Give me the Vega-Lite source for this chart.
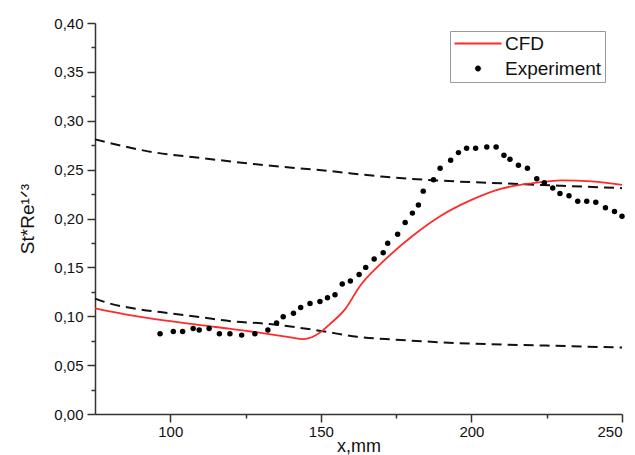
{
  "$schema": "https://vega.github.io/schema/vega-lite/v6.json",
  "width": 527,
  "height": 391,
  "autosize": "none",
  "padding": {"left": 95, "top": 23, "right": 13, "bottom": 41},
  "background": "white",
  "config": {
    "view": {"stroke": null},
    "font": "Liberation Sans",
    "axis": {
      "domainColor": "#333333",
      "domainWidth": 1.5,
      "tickColor": "#333333",
      "tickWidth": 1.5,
      "labelColor": "#111111",
      "labelFontSize": 15,
      "titleColor": "#111111",
      "titleFontWeight": "normal",
      "grid": false
    }
  },
  "datasets": {
    "bounds": [
      {"curve": "upper", "x": 75, "y": 0.281},
      {"curve": "upper", "x": 94, "y": 0.268},
      {"curve": "upper", "x": 110, "y": 0.262},
      {"curve": "upper", "x": 130, "y": 0.255},
      {"curve": "upper", "x": 153, "y": 0.2485},
      {"curve": "upper", "x": 170, "y": 0.243},
      {"curve": "upper", "x": 188, "y": 0.239},
      {"curve": "upper", "x": 210, "y": 0.236},
      {"curve": "upper", "x": 230, "y": 0.2335},
      {"curve": "upper", "x": 250, "y": 0.231},
      {"curve": "lower", "x": 75, "y": 0.118},
      {"curve": "lower", "x": 80, "y": 0.113},
      {"curve": "lower", "x": 90, "y": 0.107},
      {"curve": "lower", "x": 100, "y": 0.103},
      {"curve": "lower", "x": 110, "y": 0.099},
      {"curve": "lower", "x": 120, "y": 0.095},
      {"curve": "lower", "x": 133, "y": 0.092},
      {"curve": "lower", "x": 150, "y": 0.085},
      {"curve": "lower", "x": 162, "y": 0.079},
      {"curve": "lower", "x": 175, "y": 0.076},
      {"curve": "lower", "x": 200, "y": 0.072},
      {"curve": "lower", "x": 225, "y": 0.0700},
      {"curve": "lower", "x": 250, "y": 0.068}
    ],
    "cfd": [
      {"series": "CFD", "x": 75, "y": 0.108},
      {"series": "CFD", "x": 85, "y": 0.102},
      {"series": "CFD", "x": 100, "y": 0.095},
      {"series": "CFD", "x": 115, "y": 0.089},
      {"series": "CFD", "x": 130, "y": 0.083},
      {"series": "CFD", "x": 140, "y": 0.0785},
      {"series": "CFD", "x": 144, "y": 0.0766},
      {"series": "CFD", "x": 147, "y": 0.0785},
      {"series": "CFD", "x": 150, "y": 0.084},
      {"series": "CFD", "x": 153, "y": 0.092},
      {"series": "CFD", "x": 158, "y": 0.107},
      {"series": "CFD", "x": 163, "y": 0.131},
      {"series": "CFD", "x": 170, "y": 0.154},
      {"series": "CFD", "x": 180, "y": 0.181},
      {"series": "CFD", "x": 190, "y": 0.203},
      {"series": "CFD", "x": 200, "y": 0.219},
      {"series": "CFD", "x": 210, "y": 0.2305},
      {"series": "CFD", "x": 220, "y": 0.236},
      {"series": "CFD", "x": 230, "y": 0.239},
      {"series": "CFD", "x": 240, "y": 0.238},
      {"series": "CFD", "x": 250, "y": 0.2345}
    ],
    "exp": [
      {"series": "Experiment", "x": 96.6, "y": 0.082},
      {"series": "Experiment", "x": 101, "y": 0.0845},
      {"series": "Experiment", "x": 104.1, "y": 0.0845},
      {"series": "Experiment", "x": 107.6, "y": 0.0875},
      {"series": "Experiment", "x": 109.6, "y": 0.086},
      {"series": "Experiment", "x": 112.9, "y": 0.0875},
      {"series": "Experiment", "x": 116.3, "y": 0.082},
      {"series": "Experiment", "x": 119.8, "y": 0.082},
      {"series": "Experiment", "x": 123.7, "y": 0.0807},
      {"series": "Experiment", "x": 128.1, "y": 0.082},
      {"series": "Experiment", "x": 132.4, "y": 0.086},
      {"series": "Experiment", "x": 135.3, "y": 0.093},
      {"series": "Experiment", "x": 137.5, "y": 0.0995},
      {"series": "Experiment", "x": 140.9, "y": 0.103},
      {"series": "Experiment", "x": 143.3, "y": 0.109},
      {"series": "Experiment", "x": 146.4, "y": 0.113},
      {"series": "Experiment", "x": 149.7, "y": 0.115},
      {"series": "Experiment", "x": 152.2, "y": 0.119},
      {"series": "Experiment", "x": 154.7, "y": 0.122},
      {"series": "Experiment", "x": 157.1, "y": 0.133},
      {"series": "Experiment", "x": 159.8, "y": 0.136},
      {"series": "Experiment", "x": 162.7, "y": 0.1426},
      {"series": "Experiment", "x": 164.9, "y": 0.15},
      {"series": "Experiment", "x": 167.7, "y": 0.1586},
      {"series": "Experiment", "x": 170.7, "y": 0.165},
      {"series": "Experiment", "x": 172.2, "y": 0.1747},
      {"series": "Experiment", "x": 175.5, "y": 0.184},
      {"series": "Experiment", "x": 178, "y": 0.196},
      {"series": "Experiment", "x": 180.4, "y": 0.2055},
      {"series": "Experiment", "x": 182.4, "y": 0.2137},
      {"series": "Experiment", "x": 184, "y": 0.228},
      {"series": "Experiment", "x": 187.4, "y": 0.2397},
      {"series": "Experiment", "x": 189.6, "y": 0.2513},
      {"series": "Experiment", "x": 193.1, "y": 0.2595},
      {"series": "Experiment", "x": 195.7, "y": 0.2674},
      {"series": "Experiment", "x": 198.4, "y": 0.2718},
      {"series": "Experiment", "x": 201.4, "y": 0.2718},
      {"series": "Experiment", "x": 205.1, "y": 0.2731},
      {"series": "Experiment", "x": 208.2, "y": 0.2731},
      {"series": "Experiment", "x": 210.8, "y": 0.2646},
      {"series": "Experiment", "x": 212.8, "y": 0.2605},
      {"series": "Experiment", "x": 215.6, "y": 0.2544},
      {"series": "Experiment", "x": 218.6, "y": 0.2513},
      {"series": "Experiment", "x": 221.7, "y": 0.2407},
      {"series": "Experiment", "x": 224.2, "y": 0.2366},
      {"series": "Experiment", "x": 227, "y": 0.2311},
      {"series": "Experiment", "x": 229.4, "y": 0.2256},
      {"series": "Experiment", "x": 232.4, "y": 0.2232},
      {"series": "Experiment", "x": 235.3, "y": 0.2177},
      {"series": "Experiment", "x": 238.3, "y": 0.2177},
      {"series": "Experiment", "x": 241.3, "y": 0.2167},
      {"series": "Experiment", "x": 244.5, "y": 0.211},
      {"series": "Experiment", "x": 247.5, "y": 0.2072},
      {"series": "Experiment", "x": 250, "y": 0.2024}
    ]
  },
  "encoding": {
    "x": {
      "field": "x",
      "type": "quantitative",
      "scale": {"domain": [75, 250], "nice": false, "zero": false},
      "axis": {
        "title": "x,mm",
        "titleFontSize": 18,
        "titlePadding": -2,
        "values": [100, 125, 150, 175, 200, 225, 250],
        "labelExpr": "datum.value % 50 == 0 ? datum.label : ''",
        "tickSize": {"condition": {"test": "datum.value % 50 == 0", "value": 8}, "value": 4},
        "labelPadding": 2
      }
    },
    "y": {
      "field": "y",
      "type": "quantitative",
      "scale": {"domain": [0, 0.4], "nice": false},
      "axis": {
        "title": "St*Re¹ᐟ³",
        "titleFontSize": 19,
        "titlePadding": 16,
        "values": [0, 0.025, 0.05, 0.075, 0.1, 0.125, 0.15, 0.175, 0.2, 0.225, 0.25, 0.275, 0.3, 0.325, 0.35, 0.375, 0.4],
        "labelExpr": "abs(datum.value*20 - round(datum.value*20)) < 0.01 ? replace(format(datum.value, '.2f'), '.', ',') : ''",
        "tickSize": {"condition": {"test": "abs(datum.value*20 - round(datum.value*20)) < 0.01", "value": 8}, "value": 4},
        "labelPadding": 4
      }
    }
  },
  "layer": [
    {
      "data": {"name": "bounds"},
      "mark": {"type": "line", "color": "#111111", "strokeDash": [10, 6], "strokeWidth": 2, "interpolate": "monotone"},
      "encoding": {"detail": {"field": "curve"}}
    },
    {
      "data": {"name": "cfd"},
      "mark": {"type": "line", "strokeWidth": 1.8, "interpolate": "monotone"},
      "encoding": {
        "color": {
          "field": "series",
          "type": "nominal",
          "scale": {"domain": ["CFD", "Experiment"], "range": ["#ff2a2a", "#000000"]},
          "legend": {
            "title": null,
            "orient": "none",
            "legendX": 355,
            "legendY": 8,
            "strokeColor": "#999999",
            "padding": 3,
            "labelFontSize": 19,
            "labelColor": "#111111",
            "symbolSize": 100,
            "symbolStrokeWidth": 2,
            "rowPadding": 5,
            "labelOffset": 33,
            "encode": {
              "symbols": {
                "update": {
                  "x": {"value": 25},
                  "shape": {"signal": "(datum.value === 'CFD' ? 'M-4.7,0H4.7' : 'M-0.55,0A0.55,0.55,0,1,0,0.55,0A0.55,0.55,0,1,0,-0.55,0Z')"},
                  "fill": {"signal": "(datum.value === 'CFD' ? 'transparent' : '#000000')"},
                  "stroke": {"signal": "(datum.value === 'CFD' ? '#ff2a2a' : '#000000')"},
                  "strokeWidth": {"signal": "(datum.value === 'CFD' ? 2 : 0.5)"}
                }
              }
            }
          }
        }
      }
    },
    {
      "data": {"name": "exp"},
      "mark": {"type": "point", "filled": true, "size": 30, "opacity": 1},
      "encoding": {
        "color": {"field": "series", "type": "nominal"}
      }
    }
  ]
}
